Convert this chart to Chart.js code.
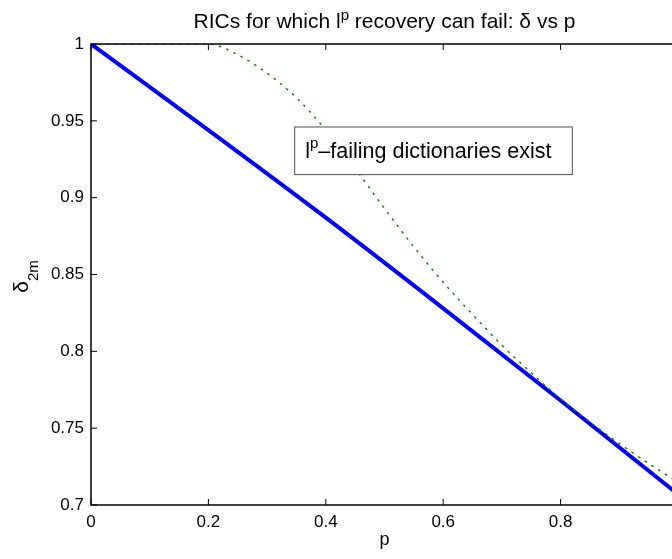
<!DOCTYPE html>
<html>
<head>
<meta charset="utf-8">
<script src="https://cdn.jsdelivr.net/npm/chart.js@4"></script>
<style>
  html, body { margin: 0; padding: 0; background: #fff; overflow: hidden; }
  #wrap { position: relative; width: 730px; height: 559px; }
</style>
</head>
<body>
<div id="wrap"><canvas id="chartRic"></canvas></div>
<script>
// values
var pLinear = [0, 0.2, 0.4, 0.6, 0.8, 1];
var deltaLinear = [1, 0.944, 0.887, 0.828, 0.768, 0.707];

var pDotted = [0, 0.1, 0.2, 0.25, 0.3, 0.35, 0.4, 0.45, 0.5, 0.55, 0.6,
               0.65, 0.7, 0.75, 0.8, 0.85, 0.9, 0.95, 1];
var deltaDotted = [1, 1, 1, 0.993, 0.981, 0.965, 0.944, 0.919, 0.893, 0.868, 0.845,
                   0.824, 0.804, 0.786, 0.769, 0.754, 0.740, 0.727, 0.715];

var xTicks = [0, 0.2, 0.4, 0.6, 0.8, 1];
var xTickLabels = ['0', '0.2', '0.4', '0.6', '0.8', ''];   // '1' falls outside the cropped view
var yTicks = [0.7, 0.75, 0.8, 0.85, 0.9, 0.95, 1];
var yTickLabels = ['0.7', '0.75', '0.8', '0.85', '0.9', '0.95', '1'];

var FONT = '"Liberation Sans", Arial, Helvetica, sans-serif';

function toPoints(xs, ys) {
    return xs.map(function (x, i) { return { x: x, y: ys[i] }; });
}

// draws pieces of text [text, size, raise] one after the other
function drawRich(ctx, parts, x, y) {
    parts.forEach(function (part) {
        ctx.font = part[1] + 'px ' + FONT;
        ctx.fillText(part[0], x, y - part[2]);
        x += ctx.measureText(part[0]).width;
    });
}
function richWidth(ctx, parts) {
    var w = 0;
    parts.forEach(function (part) {
        ctx.font = part[1] + 'px ' + FONT;
        w += ctx.measureText(part[0]).width;
    });
    return w;
}

// matlab style box, inward ticks, title, y label and the text annotation
var matlabAxes = {
    id: 'matlabAxes',
    afterDraw: function (chart) {
        var ctx = chart.ctx, a = chart.chartArea;
        var xs = chart.scales.x, ys = chart.scales.y;
        var tl = 6;
        ctx.save();
        ctx.strokeStyle = '#000';
        ctx.lineWidth = 1.5;
        ctx.strokeRect(a.left, a.top, a.right - a.left, a.bottom - a.top);
        ctx.lineWidth = 1;
        ctx.beginPath();
        xTicks.forEach(function (v) {
            var px = xs.getPixelForValue(v);
            ctx.moveTo(px, a.bottom); ctx.lineTo(px, a.bottom - tl);
            ctx.moveTo(px, a.top); ctx.lineTo(px, a.top + tl);
        });
        yTicks.forEach(function (v) {
            var py = ys.getPixelForValue(v);
            ctx.moveTo(a.left, py); ctx.lineTo(a.left + tl, py);
            ctx.moveTo(a.right, py); ctx.lineTo(a.right - tl, py);
        });
        ctx.stroke();

        ctx.fillStyle = '#000';
        ctx.textBaseline = 'alphabetic';
        ctx.textAlign = 'left';

        // title
        var titleParts = [['RICs for which l', 21, 0], ['p', 15, 8], [' recovery can fail: \u03B4 vs p', 21, 0]];
        var tw = richWidth(ctx, titleParts);
        drawRich(ctx, titleParts, (a.left + a.right) / 2 - tw / 2, 28);

        // y label, rotated
        var yParts = [['\u03B4', 21, 0], ['2m', 15, -10]];
        var yw = richWidth(ctx, yParts);
        ctx.save();
        ctx.translate(28, (a.top + a.bottom) / 2 + 2 + yw / 2);
        ctx.rotate(-Math.PI / 2);
        drawRich(ctx, yParts, 0, 0);
        ctx.restore();

        // text box "lp-failing dictionaries exist"
        var bx0 = xs.getPixelForValue(0.347), bx1 = xs.getPixelForValue(0.820);
        var by0 = ys.getPixelForValue(0.946), by1 = ys.getPixelForValue(0.915);
        ctx.fillStyle = '#fff';
        ctx.fillRect(bx0, by0, bx1 - bx0, by1 - by0);
        ctx.strokeStyle = '#4d4d4d';
        ctx.lineWidth = 1;
        ctx.strokeRect(bx0, by0, bx1 - bx0, by1 - by0);

        ctx.fillStyle = '#000';
        drawRich(ctx, [['l', 21.5, 0], ['p', 15, 10], ['\u2013failing dictionaries exist', 21.5, 0]],
                 xs.getPixelForValue(0.365), (by0 + by1) / 2 + 7);
        ctx.restore();
    }
};

var ctx = document.getElementById('chartRic');
var myChartRic = new Chart(ctx, {
    type: 'line',
    data: {
        datasets: [{
            label: 'dotted bound',
            data: toPoints(pDotted, deltaDotted),
            borderColor: 'rgb(0, 128, 0)',
            borderWidth: 1.4,
            borderDash: [2.5, 5.5],
            pointRadius: 0,
            cubicInterpolationMode: 'monotone',
            fill: false,
            order: 0
            },{
            label: 'linear bound',
            data: toPoints(pLinear, deltaLinear),
            borderColor: 'rgb(0, 0, 255)',
            borderWidth: 4,
            pointRadius: 0,
            cubicInterpolationMode: 'monotone',
            fill: false,
            order: 1
            }
        ]
    },
    options: {
        responsive: true,
        maintainAspectRatio: false,
        animation: false,
        layout: { padding: { left: 0, right: 52, top: 44, bottom: 0 } },
        plugins: {
            legend: { display: false },
            tooltip: { enabled: false },
            title: { display: false }
        },
        scales: {
            x: {
                type: 'linear',
                min: 0,
                max: 1,
                afterBuildTicks: function (s) { s.ticks = xTicks.map(function (v) { return { value: v }; }); },
                afterFit: function (s) { s.height = 54; },
                ticks: {
                    color: '#000',
                    font: { family: FONT, size: 17 },
                    padding: 7,
                    maxRotation: 0,
                    autoSkip: false,
                    callback: function (value) { return xTickLabels[xTicks.indexOf(value)]; }
                },
                grid: { display: false, drawTicks: false },
                border: { display: false },
                title: {
                    display: true,
                    text: 'p',
                    color: '#000',
                    font: { family: FONT, size: 18 },
                    padding: { top: 0, bottom: 8 }
                }
            },
            y: {
                type: 'linear',
                min: 0.7,
                max: 1,
                afterBuildTicks: function (s) { s.ticks = yTicks.map(function (v) { return { value: v }; }); },
                afterFit: function (s) { s.width = 91; },
                ticks: {
                    color: '#000',
                    font: { family: FONT, size: 17 },
                    padding: 7,
                    autoSkip: false,
                    callback: function (value) { return yTickLabels[yTicks.indexOf(value)]; }
                },
                grid: { display: false, drawTicks: false },
                border: { display: false }
            }
        }
    },
    plugins: [matlabAxes]
});
</script>
</body>
</html>
